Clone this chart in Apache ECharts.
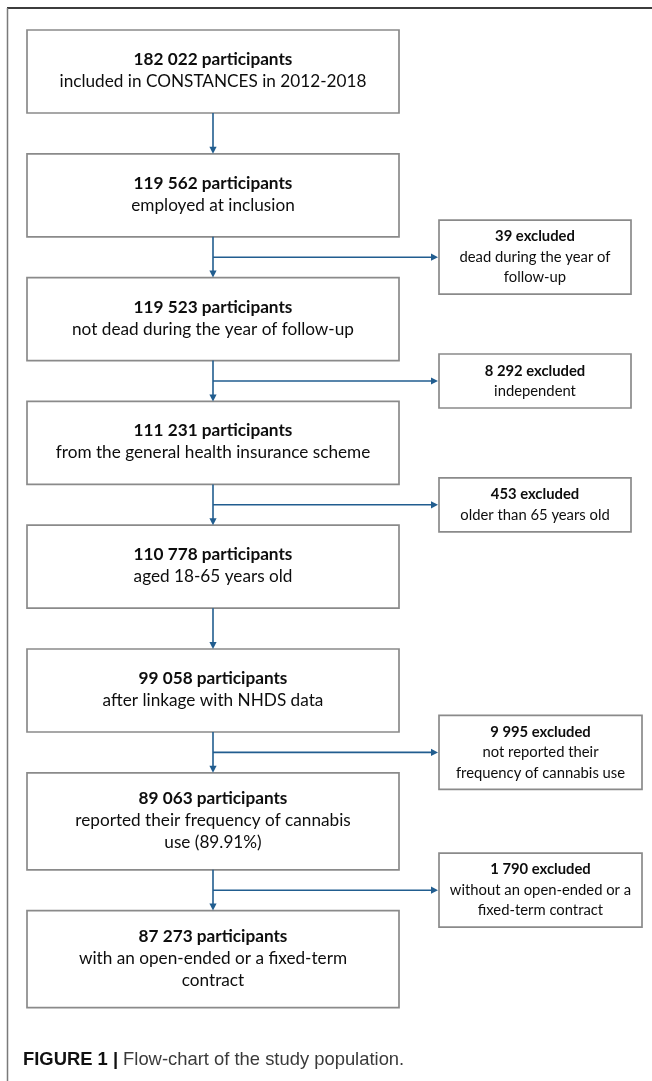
<!DOCTYPE html>
<html><head><meta charset="utf-8">
<script src="https://cdn.jsdelivr.net/npm/echarts@6/dist/echarts.min.js"></script>
<style>html,body{margin:0;padding:0;background:#fff}#c{width:652px;height:1081px}</style>
</head><body><div id="c"></div>
<script>
// ---- data ----
const mainCounts = ['182 022', '119 562', '119 523', '111 231', '110 778', '99 058', '89 063', '87 273'];
const mainDescriptions = [
  ['included in CONSTANCES in 2012-2018'],
  ['employed at inclusion'],
  ['not dead during the year of follow-up'],
  ['from the general health insurance scheme'],
  ['aged 18-65 years old'],
  ['after linkage with NHDS data'],
  ['reported their frequency of cannabis', 'use (89.91%)'],
  ['with an open-ended or a fixed-term', 'contract']
];
const exclCounts = ['39', '8 292', '453', '9 995', '1 790'];
const exclDescriptions = [
  ['dead during the year of', 'follow-up'],
  ['independent'],
  ['older than 65 years old'],
  ['not reported their', 'frequency of cannabis use'],
  ['without an open-ended or a', 'fixed-term contract']
];
const exclAfterStep = [1, 2, 3, 5, 6];
const captionLabel = 'FIGURE 1 |';
const captionText = 'Flow-chart of the study population.';

// ---- layout / style ----
const L = {
  W: 652, H: 1081,
  mainLeft: 27, mainRight: 399, top: 30, gap: 40.8, h2: 83, h3: 97, spine: 213,
  exclLeft: 439, exclRightNarrow: 631, exclRightWide: 642, exclH2: 54, exclH3: 74,
  mainLine: 22, exclLine: 20.5
};
const S = {
  boxStroke: '#8a8a8a', boxLW: 1.7, arrow: '#215d8f', arrowLW: 1.6,
  mainFont: 'Lato', mainSize: 17.2, exclSize: 14.8, text: '#0d0d0d'
};

const mainH = mainDescriptions.map(d => (d.length + 1) <= 2 ? L.h2 : L.h3);
const mainTop = [];
{ let y = L.top; mainH.forEach(h => { mainTop.push(y); y += h + L.gap; }); }
const branchY = i => (mainTop[i] + mainH[i] + mainTop[i + 1]) / 2;

function textLines(api, cx, cy, bold, lines, size, lh) {
  const all = [bold].concat(lines);
  const n = all.length;
  const out = [];
  all.forEach((t, k) => {
    const p = api.coord([cx, cy + (k - (n - 1) / 2) * lh]);
    out.push({
      type: 'text',
      style: {
        text: t, x: p[0], y: p[1], align: 'center', verticalAlign: 'middle',
        font: (k === 0 ? 'bold ' : '') + size + 'px ' + S.mainFont, fill: S.text
      }
    });
  });
  return out;
}
function arrowHead(api, x, y, dir) {
  const tip = api.coord([x, y]);
  const len = 7, half = 3.6;
  let pts;
  if (dir === 'down') pts = [[tip[0] - half, tip[1] - len], [tip[0] + half, tip[1] - len], tip];
  else pts = [[tip[0] - len, tip[1] - half], [tip[0] - len, tip[1] + half], tip];
  return { type: 'polygon', shape: { points: pts }, style: { fill: S.arrow } };
}

const option = {
  animation: false,
  grid: { left: 0, right: 0, top: 0, bottom: 0 },
  xAxis: { type: 'value', min: 0, max: L.W, show: false },
  yAxis: { type: 'value', min: 0, max: L.H, inverse: true, show: false },
  title: {
    left: 23, top: 1051, padding: 0,
    text: '{b|' + captionLabel + '} {r|' + captionText + '}',
    textStyle: {
      fontWeight: 'normal',
      rich: {
        b: { fontFamily: 'Liberation Sans', fontWeight: 'bold', fontSize: 18.4, color: '#111' },
        r: { fontFamily: 'Liberation Sans', fontWeight: 'normal', fontSize: 18.4, color: '#3a3a3a' }
      }
    }
  },
  graphic: [
    { type: 'line', shape: { x1: 7, y1: 8, x2: 652, y2: 8 }, style: { stroke: '#3c3c3c', lineWidth: 2 } },
    { type: 'line', shape: { x1: 7.5, y1: 8, x2: 7.5, y2: 1081 }, style: { stroke: '#7a7a7a', lineWidth: 1.5 } }
  ],
  series: [
    {
      type: 'custom', name: 'steps', clip: false,
      data: mainCounts.map((c, i) => [i, 0]),
      renderItem: (params, api) => {
        const i = api.value(0);
        const a = api.coord([L.mainLeft, mainTop[i]]);
        const b = api.coord([L.mainRight, mainTop[i] + mainH[i]]);
        const children = [{
          type: 'rect', shape: { x: a[0], y: a[1], width: b[0] - a[0], height: b[1] - a[1] },
          style: { fill: '#fff', stroke: S.boxStroke, lineWidth: S.boxLW }
        }];
        const cx = (L.mainLeft + L.mainRight) / 2;
        const cy = mainTop[i] + mainH[i] / 2 - 1;
        return { type: 'group', children: children.concat(
          textLines(api, cx, cy, mainCounts[i] + ' participants', mainDescriptions[i], S.mainSize, L.mainLine)) };
      }
    },
    {
      type: 'custom', name: 'flow', clip: false,
      data: mainCounts.slice(1).map((c, i) => [i, 0]),
      renderItem: (params, api) => {
        const i = api.value(0);
        const p1 = api.coord([L.spine, mainTop[i] + mainH[i]]);
        const p2 = api.coord([L.spine, mainTop[i + 1] - 6]);
        return { type: 'group', children: [
          { type: 'line', shape: { x1: p1[0], y1: p1[1], x2: p2[0], y2: p2[1] }, style: { stroke: S.arrow, lineWidth: S.arrowLW } },
          arrowHead(api, L.spine, mainTop[i + 1], 'down')
        ] };
      }
    },
    {
      type: 'custom', name: 'excluded', clip: false,
      data: exclCounts.map((c, j) => [j, 0]),
      renderItem: (params, api) => {
        const j = api.value(0);
        const step = exclAfterStep[j];
        const by = branchY(step);
        const lines = exclDescriptions[j].length + 1;
        const h = lines <= 2 ? L.exclH2 : L.exclH3;
        const right = exclDescriptions[j].some(t => t.length > 23) ? L.exclRightWide : L.exclRightNarrow;
        const a = api.coord([L.exclLeft, by - h / 2]);
        const b = api.coord([right, by + h / 2]);
        const s = api.coord([L.spine, by]);
        const e = api.coord([L.exclLeft - 6, by]);
        const children = [
          { type: 'line', shape: { x1: s[0], y1: s[1], x2: e[0], y2: e[1] }, style: { stroke: S.arrow, lineWidth: S.arrowLW } },
          arrowHead(api, L.exclLeft - 1, by, 'right'),
          { type: 'rect', shape: { x: a[0], y: a[1], width: b[0] - a[0], height: b[1] - a[1] },
            style: { fill: '#fff', stroke: S.boxStroke, lineWidth: S.boxLW } }
        ];
        return { type: 'group', children: children.concat(
          textLines(api, (L.exclLeft + right) / 2, by, exclCounts[j] + ' excluded', exclDescriptions[j], S.exclSize, L.exclLine)) };
      }
    }
  ]
};
const chart = echarts.init(document.getElementById('c'), null, { renderer: 'canvas' });
chart.setOption(option);
</script>
</body></html>
